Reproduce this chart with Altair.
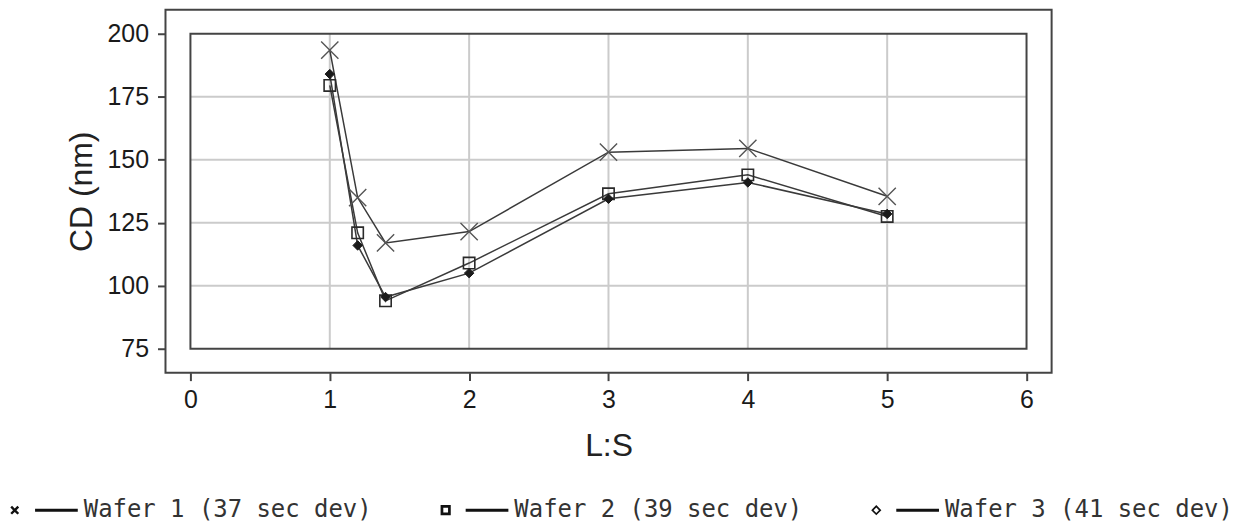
import altair as alt
import pandas as pd

# ---- data ----
ls_values = [1, 1.2, 1.4, 2, 3, 4, 5]
wafer1 = [193.5, 135, 117, 121.5, 153, 154.5, 135.5]
wafer2 = [179.5, 121, 94, 109, 136.5, 144, 127.5]
wafer3 = [184, 116, 95.5, 105, 134.5, 141, 128.5]
series_names = ["Wafer 1 (37 sec dev)", "Wafer 2 (39 sec dev)", "Wafer 3 (41 sec dev)"]
x_ticks = [0, 1, 2, 3, 4, 5, 6]
y_ticks = [75, 100, 125, 150, 175, 200]

rows = []
for name, vals in zip(series_names, [wafer1, wafer2, wafer3]):
    for x, y in zip(ls_values, vals):
        rows.append({"x": x, "y": y, "series": name})
df = pd.DataFrame(rows)

grid_x = pd.DataFrame({"gx": x_ticks[1:-1]})
grid_y = pd.DataFrame({"gy": y_ticks[1:-1]})

xscale = alt.Scale(domain=[-0.179, 6.18], nice=False, zero=False)
yscale = alt.Scale(domain=[65.5, 209.5], nice=False, zero=False)

FONT = "Liberation Sans"
DARK = "#444444"

vgrid = alt.Chart(grid_x).mark_rule(color="#cbcbcb", strokeWidth=2).encode(
    x=alt.X("gx:Q", scale=xscale,
            axis=alt.Axis(values=x_ticks, title="L:S", format="d")),
    y=alt.datum(75), y2=alt.datum(200)
)
hgrid = alt.Chart(grid_y).mark_rule(color="#cbcbcb", strokeWidth=2).encode(
    y=alt.Y("gy:Q", scale=yscale,
            axis=alt.Axis(values=y_ticks, title="CD (nm)", format="d")),
    x=alt.datum(0), x2=alt.datum(6)
)

box = alt.Chart(alt.Data(values=[{"a": 1}])).mark_rect(
    fill="transparent", stroke=DARK, strokeWidth=2
).encode(x=alt.datum(0), x2=alt.datum(6), y=alt.datum(75), y2=alt.datum(200))

base = alt.Chart(df)
lines = base.mark_line(color="#3a3a3a", strokeWidth=1.5).encode(
    x=alt.X("x:Q", scale=xscale, title="L:S"),
    y=alt.Y("y:Q", scale=yscale, title="CD (nm)"),
    detail="series:N",
)

xpath = "M-1,-1L1,1M-1,1L1,-1"
p1 = base.transform_filter(alt.datum.series == series_names[0]).mark_point(
    shape=xpath, size=300, stroke="#555555", strokeWidth=1.4, opacity=1, filled=False
).encode(x="x:Q", y="y:Q")
p2 = base.transform_filter(alt.datum.series == series_names[1]).mark_point(
    shape="square", size=130, stroke="#2a2a2a", strokeWidth=1.6, opacity=1, filled=False
).encode(x="x:Q", y="y:Q")
p3 = base.transform_filter(alt.datum.series == series_names[2]).mark_point(
    shape="diamond", size=90, fill="#1a1a1a", stroke="#1a1a1a", strokeWidth=1, opacity=1, filled=True
).encode(x="x:Q", y="y:Q")


# legend symbols: marker followed by a short line (filled shapes only)
def xshape(cx, h, t):
    pts = [(cx - h, -h + t), (cx - h + t, -h), (cx, -t), (cx + h - t, -h), (cx + h, -h + t),
           (cx + t, 0), (cx + h, h - t), (cx + h - t, h), (cx, t), (cx - h + t, h),
           (cx - h, h - t), (cx - t, 0)]
    return "M" + "L".join(f"{px:.3f},{py:.3f}" for px, py in pts) + "Z"


line_part = "M-0.26,-0.045L1,-0.045L1,0.045L-0.26,0.045Z"
leg_x = xshape(-0.86, 0.13, 0.05) + line_part
leg_sq = ("M-1,-0.15L-0.7,-0.15L-0.7,0.15L-1,0.15Z"
          "M-0.92,-0.07L-0.92,0.07L-0.78,0.07L-0.78,-0.07Z" + line_part)
leg_di = ("M-1,0L-0.85,-0.15L-0.7,0L-0.85,0.15Z"
          "M-0.93,0L-0.85,0.08L-0.77,0L-0.85,-0.08Z" + line_part)

legend_layer = base.transform_filter("datum.x > 1000").mark_point(
    filled=True, fill="#111111", stroke="#111111", strokeWidth=1.6, opacity=1
).encode(
    x="x:Q", y="y:Q",
    shape=alt.Shape("series:N",
                    scale=alt.Scale(domain=series_names, range=[leg_x, leg_sq, leg_di]),
                    legend=alt.Legend(
                        title=None, orient="none", legendX=-157, legendY=467,
                        direction="horizontal", columns=3, columnPadding=65,
                        symbolSize=4624, symbolStrokeWidth=1.6,
                        symbolFillColor="#111111", symbolStrokeColor="#111111",
                        labelFont="DejaVu Sans Mono", labelFontSize=24,
                        labelColor="#333333", labelOffset=5, labelLimit=400,
                        padding=0,
                    ))
)

chart = alt.layer(vgrid, hgrid, box, lines, p1, p2, p3, legend_layer).resolve_scale(
    shape="independent"
).properties(
    width=889, height=364,
    autosize=alt.AutoSizeParams(type="none"),
    padding={"left": 158, "top": 1, "right": 190, "bottom": 150},
).configure_view(
    stroke=DARK, strokeWidth=2
).configure_axis(
    domain=False, grid=False, ticks=True, tickColor=DARK, tickWidth=2, tickSize=8,
    labelFont=FONT, labelFontSize=25, labelColor="#1a1a1a",
    titleFont=FONT, titleFontSize=32, titleFontWeight="normal", titleColor="#222222",
).configure_axisY(
    labelPadding=9, titlePadding=9
).configure_axisX(
    labelPadding=7, titlePadding=18
)

chart.save("out.html", embed_options={"renderer": "svg", "actions": False})
